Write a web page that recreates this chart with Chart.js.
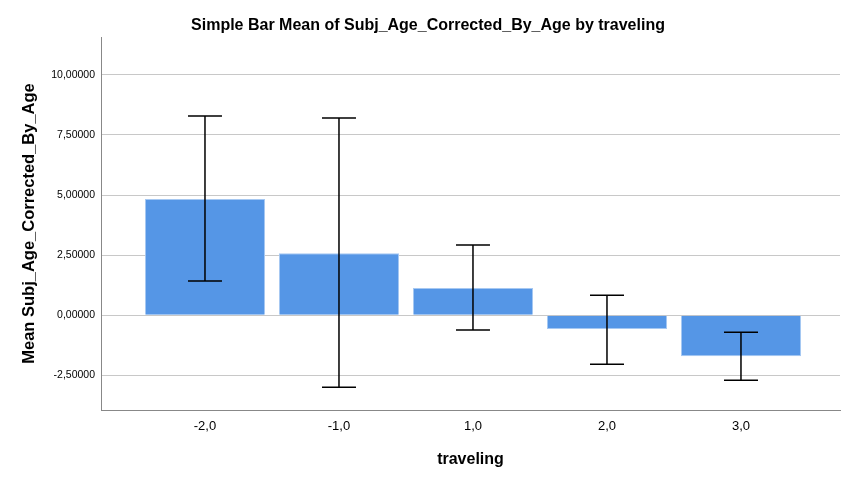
<!DOCTYPE html>
<html>
<head>
<meta charset="utf-8">
<script src="https://cdn.jsdelivr.net/npm/chart.js@4.4.0/dist/chart.umd.min.js"></script>
<style>
  body { margin: 0; background: #fff; }
  #wrap { width: 867px; height: 482px; }
</style>
</head>
<body>
<div id="wrap"><canvas id="bar"></canvas></div>
<script>
//Data traveling//
const categories = ["-2,0", "-1,0", "1,0", "2,0", "3,0"];
const means = [4.83, 2.58, 1.13, -0.58, -1.71];
const errLow = [1.42, -3.0, -0.62, -2.04, -2.71];
const errHigh = [8.29, 8.21, 2.92, 0.83, -0.71];
const yTicks = [-2.5, 0, 2.5, 5, 7.5, 10];

// error bars drawn on top of the bars
const errorBars = {
  id: "errorBars",
  afterDatasetsDraw(chart) {
    const ctx = chart.ctx;
    const xs = chart.scales.x;
    const ys = chart.scales.y;
    ctx.save();
    ctx.strokeStyle = "#000";
    ctx.lineWidth = 1.5;
    for (let i = 0; i < means.length; i++) {
      const x = xs.getPixelForValue(i);
      const yTop = ys.getPixelForValue(errHigh[i]);
      const yBot = ys.getPixelForValue(errLow[i]);
      ctx.beginPath();
      ctx.moveTo(x, yTop);
      ctx.lineTo(x, yBot);
      ctx.moveTo(x - 17, yTop);
      ctx.lineTo(x + 17, yTop);
      ctx.moveTo(x - 17, yBot);
      ctx.lineTo(x + 17, yBot);
      ctx.stroke();
    }
    ctx.restore();
  },
};

const data = {
  datasets: [
    {
      label: "Mean",
      data: means.map((v, i) => ({ x: i, y: v })),
      backgroundColor: "#5596e6",
      borderColor: "#a6c8f2",
      borderWidth: 1,
      categoryPercentage: 1,
      barPercentage: 0.896,
    },
  ],
};

const config = {
  type: "bar",
  data: data,
  plugins: [errorBars],
  options: {
    responsive: true,
    maintainAspectRatio: false,
    animation: false,
    layout: { padding: { left: 0, right: 11, top: 0, bottom: 0 } },
    scales: {
      x: {
        type: "linear",
        offset: false,
        min: -0.776,
        max: 4.739,
        afterFit: (s) => { s.height = 72; },
        grid: { display: false, drawTicks: false },
        border: { display: true, color: "#888", width: 1 },
        ticks: {
          stepSize: 1,
          includeBounds: false,
          padding: 9,
          color: "#000",
          font: { family: "Liberation Sans", size: 13 },
          callback: (v) => (Number.isInteger(v) && categories[v] !== undefined ? categories[v] : ""),
        },
        title: {
          display: true,
          text: "traveling",
          color: "#000",
          font: { family: "Liberation Sans", size: 16, weight: "bold" },
          padding: { top: 12.5, bottom: 12.5 },
        },
      },
      y: {
        min: -3.95,
        max: 11.58,
        afterFit: (s) => { s.width = 101; },
        afterBuildTicks: (s) => { s.ticks = yTicks.map((v) => ({ value: v })); },
        grid: { color: "#c8c8c8", lineWidth: 1, drawTicks: false },
        border: { display: true, color: "#888", width: 1 },
        ticks: {
          padding: 6,
          color: "#000",
          font: { family: "Liberation Sans", size: 10.5 },
          callback: (v) => v.toFixed(5).replace(".", ","),
        },
        title: {
          display: true,
          text: "Mean Subj_Age_Corrected_By_Age",
          color: "#000",
          font: { family: "Liberation Sans", size: 16.5, weight: "bold" },
          padding: { top: 20, bottom: 20 },
        },
      },
      // empty strip on the right so the title centres like the original
      yRight: {
        position: "right",
        display: true,
        afterFit: (s) => { s.width = 16; },
        grid: { display: false, drawTicks: false },
        border: { display: false },
        ticks: { display: false },
      },
    },
    plugins: {
      legend: { display: false },
      tooltip: { enabled: false },
      title: {
        display: true,
        text: "Simple Bar Mean of Subj_Age_Corrected_By_Age by traveling",
        color: "#000",
        font: { family: "Liberation Sans", size: 16, weight: "bold" },
        padding: { top: 16, bottom: 1.8 },
      },
    },
  },
};
const barChart = new Chart(document.getElementById("bar").getContext("2d"), config);
//Akhir Data traveling//
</script>
</body>
</html>
